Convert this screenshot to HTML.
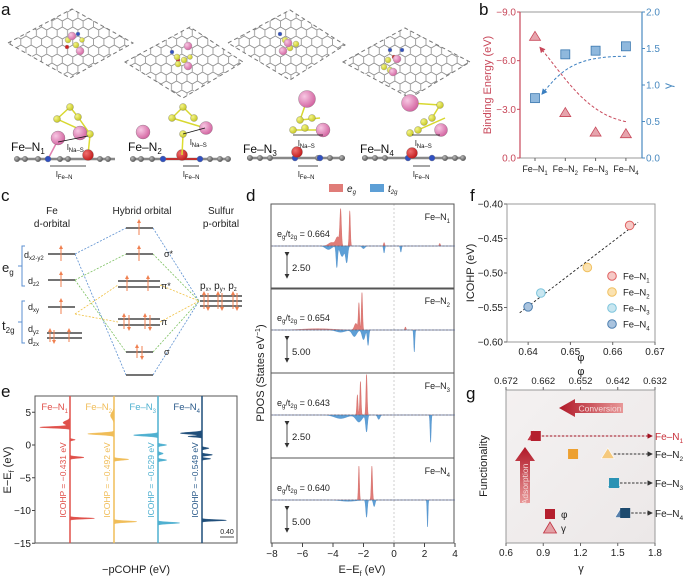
<!DOCTYPE html>
<html><head><meta charset="utf-8"><style>
html,body{margin:0;padding:0;background:#fff;}
svg{display:block;font-family:"Liberation Sans",sans-serif;}
</style></head><body>
<svg id="fig" width="685" height="577" viewBox="0 0 685 577" xmlns="http://www.w3.org/2000/svg">
<defs>
<pattern id="hex" width="10.39" height="18" patternUnits="userSpaceOnUse">
<path d="M5.2,0 L10.39,3 L10.39,9 L5.2,12 L0,9 L0,3 Z M5.2,12 L5.2,18" fill="none" stroke="#8a8a8a" stroke-width="0.8"/>
</pattern>
<radialGradient id="pinkG" cx="0.35" cy="0.35" r="0.7"><stop offset="0" stop-color="#f7c8e3"/><stop offset="1" stop-color="#d2619f"/></radialGradient>
<radialGradient id="yelG" cx="0.35" cy="0.35" r="0.7"><stop offset="0" stop-color="#f4f58a"/><stop offset="1" stop-color="#c4c41e"/></radialGradient>
<radialGradient id="redG" cx="0.35" cy="0.35" r="0.7"><stop offset="0" stop-color="#f07070"/><stop offset="1" stop-color="#c01818"/></radialGradient>
<radialGradient id="greyG" cx="0.35" cy="0.35" r="0.7"><stop offset="0" stop-color="#bbb"/><stop offset="1" stop-color="#555"/></radialGradient>
<linearGradient id="gbg" x1="0" y1="0" x2="1" y2="1"><stop offset="0" stop-color="#f4f1f1"/><stop offset="1" stop-color="#ece8e8"/></linearGradient>
<linearGradient id="convG" x1="0" y1="0" x2="1" y2="0"><stop offset="0" stop-color="#b01828"/><stop offset="1" stop-color="#e89898"/></linearGradient>
<linearGradient id="adsG" x1="0" y1="0" x2="0" y2="1"><stop offset="0" stop-color="#b01828"/><stop offset="1" stop-color="#e89898"/></linearGradient>
<marker id="arrR" markerWidth="6" markerHeight="6" refX="5" refY="3" orient="auto"><path d="M0,0 L6,3 L0,6 Z" fill="#c8485a"/></marker>
<marker id="arrB" markerWidth="6" markerHeight="6" refX="5" refY="3" orient="auto"><path d="M0,0 L6,3 L0,6 Z" fill="#3b7fc0"/></marker>
<marker id="arrK" markerWidth="6" markerHeight="6" refX="5" refY="3" orient="auto"><path d="M0,0 L6,3 L0,6 Z" fill="#333"/></marker>
<marker id="arrDR" markerWidth="6" markerHeight="6" refX="5" refY="3" orient="auto"><path d="M0,0 L6,3 L0,6 Z" fill="#a01020"/></marker>
<marker id="arrO" markerWidth="4" markerHeight="4" refX="2" refY="2" orient="auto"><path d="M0,0 L4,2 L0,4 Z" fill="#f08050"/></marker>
</defs>

<g font-size="17" fill="#111">
<text x="1" y="15">a</text><text x="479" y="15">b</text><text x="1" y="201">c</text>
<text x="246" y="201">d</text><text x="470" y="201">f</text><text x="1" y="397">e</text><text x="466" y="399">g</text>
</g>

<g id="panelA">
<g>
<polygon points="8,43 72,9 133,43 70,78" fill="url(#hex)" stroke="#777" stroke-dasharray="4,3"/>
<polygon points="125,62 190,27 243,62 183,98" fill="url(#hex)" stroke="#777" stroke-dasharray="4,3"/>
<polygon points="228,43 290,10 345,45 290,80" fill="url(#hex)" stroke="#777" stroke-dasharray="4,3"/>
<polygon points="343,62 405,28 470,62 410,98" fill="url(#hex)" stroke="#777" stroke-dasharray="4,3"/>
</g>
<g stroke="#999" stroke-width="0.4">
<circle cx="78" cy="34" r="2" fill="#3050c0"/><circle cx="67" cy="47" r="2" fill="#d02020"/>
<circle cx="68" cy="40" r="3" fill="url(#yelG)"/><circle cx="76" cy="45" r="3" fill="url(#yelG)"/><circle cx="82" cy="40" r="2.5" fill="url(#yelG)"/>
<circle cx="72" cy="36" r="4" fill="url(#pinkG)"/><circle cx="80" cy="51" r="4" fill="url(#pinkG)"/>
<circle cx="172" cy="52" r="2" fill="#3050c0"/><circle cx="178" cy="60" r="2" fill="#d02020"/>
<circle cx="177" cy="57" r="3" fill="url(#yelG)"/><circle cx="184" cy="60" r="3" fill="url(#yelG)"/><circle cx="178" cy="64" r="3" fill="url(#yelG)"/><circle cx="190" cy="57" r="2.5" fill="url(#yelG)"/>
<circle cx="188" cy="46" r="4" fill="url(#pinkG)"/><circle cx="188" cy="66" r="4" fill="url(#pinkG)"/>
<circle cx="280" cy="34" r="2" fill="#3050c0"/><circle cx="287" cy="44" r="2" fill="#d02020"/>
<circle cx="285" cy="40" r="3" fill="url(#yelG)"/><circle cx="296" cy="44" r="3" fill="url(#yelG)"/><circle cx="290" cy="48" r="3" fill="url(#yelG)"/>
<circle cx="288" cy="43" r="4" fill="url(#pinkG)"/><circle cx="283" cy="51" r="4" fill="url(#pinkG)"/>
<circle cx="390" cy="50" r="2" fill="#3050c0"/><circle cx="402" cy="50" r="2" fill="#3050c0"/><circle cx="394" cy="57" r="2" fill="#d02020"/>
<circle cx="388" cy="60" r="3" fill="url(#yelG)"/><circle cx="384" cy="67" r="3" fill="url(#yelG)"/><circle cx="390" cy="70" r="3" fill="url(#yelG)"/>
<circle cx="397" cy="59" r="4" fill="url(#pinkG)"/><circle cx="393" cy="72" r="4" fill="url(#pinkG)"/>
</g>
<g stroke="#666" stroke-width="0.3">
<line x1="15" y1="159" x2="115" y2="159" stroke="#888" stroke-width="2.5"/>
<line x1="130" y1="159" x2="230" y2="159" stroke="#888" stroke-width="2.5"/>
<line x1="247" y1="158" x2="345" y2="158" stroke="#888" stroke-width="2.5"/>
<line x1="362" y1="158" x2="463" y2="158" stroke="#888" stroke-width="2.5"/>
<g fill="url(#greyG)">
<circle cx="17" cy="159" r="2.8"/><circle cx="25" cy="159" r="2.8"/><circle cx="38" cy="159" r="2.8"/><circle cx="60" cy="159" r="2.8"/><circle cx="68" cy="159" r="2.8"/><circle cx="100" cy="159" r="2.8"/><circle cx="108" cy="159" r="2.8"/>
<circle cx="133" cy="159" r="2.8"/><circle cx="141" cy="159" r="2.8"/><circle cx="152" cy="159" r="2.8"/><circle cx="210" cy="159" r="2.8"/><circle cx="220" cy="159" r="2.8"/><circle cx="228" cy="159" r="2.8"/>
<circle cx="250" cy="158" r="2.8"/><circle cx="260" cy="158" r="2.8"/><circle cx="270" cy="158" r="2.8"/><circle cx="318" cy="158" r="2.8"/><circle cx="330" cy="158" r="2.8"/><circle cx="342" cy="158" r="2.8"/>
<circle cx="365" cy="158" r="2.8"/><circle cx="375" cy="158" r="2.8"/><circle cx="385" cy="158" r="2.8"/><circle cx="445" cy="158" r="2.8"/><circle cx="455" cy="158" r="2.8"/><circle cx="463" cy="158" r="2.8"/>
</g>
<line x1="48" y1="159" x2="58" y2="140" stroke="#e080b0" stroke-width="1.5"/>
<line x1="88" y1="155" x2="90" y2="135" stroke="#dddd30" stroke-width="1.5"/>
<circle cx="48" cy="159" r="3" fill="#3050c0"/><circle cx="88" cy="155" r="5.5" fill="url(#redG)"/>
<g stroke="#d8d830" stroke-width="1.5"><line x1="70" y1="107" x2="57" y2="119"/><line x1="70" y1="107" x2="78" y2="117"/><line x1="57" y1="119" x2="90" y2="134"/><line x1="78" y1="117" x2="90" y2="134"/></g>
<circle cx="80" cy="133" r="7" fill="url(#pinkG)"/><circle cx="58" cy="138" r="7" fill="url(#pinkG)"/>
<circle cx="70" cy="107" r="3.5" fill="url(#yelG)"/><circle cx="57" cy="119" r="3.5" fill="url(#yelG)"/><circle cx="78" cy="117" r="3.5" fill="url(#yelG)"/><circle cx="90" cy="134" r="3.5" fill="url(#yelG)"/>
<line x1="163" y1="159" x2="200" y2="159" stroke="#c03030" stroke-width="2"/>
<circle cx="163" cy="159" r="3" fill="#3050c0"/><circle cx="200" cy="159" r="3" fill="#3050c0"/><circle cx="182" cy="155" r="5.5" fill="url(#redG)"/>
<line x1="182" y1="155" x2="183" y2="135" stroke="#dddd30" stroke-width="1.5"/>
<g stroke="#d8d830" stroke-width="1.5"><line x1="183" y1="107" x2="172" y2="118"/><line x1="183" y1="107" x2="194" y2="118"/><line x1="172" y1="118" x2="205" y2="128"/></g>
<circle cx="143" cy="132" r="7" fill="url(#pinkG)"/><circle cx="206" cy="128" r="6.5" fill="url(#pinkG)"/>
<circle cx="183" cy="107" r="3.5" fill="url(#yelG)"/><circle cx="172" cy="118" r="3.5" fill="url(#yelG)"/><circle cx="194" cy="118" r="3.5" fill="url(#yelG)"/><circle cx="183" cy="134" r="3.5" fill="url(#yelG)"/>
<circle cx="295" cy="158" r="3" fill="#3050c0"/><circle cx="320" cy="158" r="3" fill="#3050c0"/><circle cx="297" cy="152" r="5.5" fill="url(#redG)"/>
<g stroke="#d8d830" stroke-width="1.5"><line x1="307" y1="100" x2="300" y2="120"/><line x1="300" y1="120" x2="320" y2="118"/><line x1="293" y1="130" x2="320" y2="130"/></g>
<circle cx="307" cy="99" r="8.5" fill="url(#pinkG)"/><circle cx="323" cy="130" r="7" fill="url(#pinkG)"/>
<circle cx="300" cy="120" r="3.5" fill="url(#yelG)"/><circle cx="312" cy="118" r="3.5" fill="url(#yelG)"/><circle cx="293" cy="130" r="3.5" fill="url(#yelG)"/><circle cx="305" cy="128" r="3.5" fill="url(#yelG)"/>
<circle cx="408" cy="158" r="3" fill="#3050c0"/><circle cx="432" cy="158" r="3" fill="#3050c0"/><circle cx="412" cy="153" r="5.5" fill="url(#redG)"/>
<g stroke="#d8d830" stroke-width="1.5"><line x1="410" y1="103" x2="440" y2="105"/><line x1="440" y1="105" x2="432" y2="118"/><line x1="418" y1="130" x2="445" y2="118"/></g>
<circle cx="410" cy="103" r="8.5" fill="url(#pinkG)"/><circle cx="441" cy="130" r="6.5" fill="url(#pinkG)"/>
<circle cx="440" cy="105" r="3.5" fill="url(#yelG)"/><circle cx="432" cy="118" r="3.5" fill="url(#yelG)"/><circle cx="418" cy="130" r="3.5" fill="url(#yelG)"/><circle cx="410" cy="133" r="3.5" fill="url(#yelG)"/><circle cx="424" cy="122" r="3.5" fill="url(#yelG)"/>
</g>
<g font-size="12" fill="#111">
<text x="11" y="151">Fe–N<tspan font-size="8" dy="3">1</tspan></text>
<text x="128" y="151">Fe–N<tspan font-size="8" dy="3">2</tspan></text>
<text x="243" y="153">Fe–N<tspan font-size="8" dy="3">3</tspan></text>
<text x="360" y="153">Fe–N<tspan font-size="8" dy="3">4</tspan></text>
</g>
<g font-size="8" fill="#111" stroke-width="0.8">
<line x1="58" y1="142" x2="88" y2="136" stroke="#111"/><text x="67" y="150">l<tspan font-size="6" dy="2">Na–S</tspan></text>
<line x1="50" y1="166" x2="86" y2="166" stroke="#111"/><text x="56" y="177">l<tspan font-size="6" dy="2">Fe–N</tspan></text>
<line x1="183" y1="134" x2="205" y2="128" stroke="#111"/><text x="190" y="145">l<tspan font-size="6" dy="2">Na–S</tspan></text>
<line x1="183" y1="166" x2="199" y2="166" stroke="#111"/><text x="183" y="177">l<tspan font-size="6" dy="2">Fe–N</tspan></text>
<line x1="293" y1="135" x2="323" y2="135" stroke="#111"/><text x="298" y="146">l<tspan font-size="6" dy="2">Na–S</tspan></text>
<line x1="298" y1="166" x2="318" y2="166" stroke="#111"/><text x="298" y="177">l<tspan font-size="6" dy="2">Fe–N</tspan></text>
<line x1="412" y1="135" x2="440" y2="135" stroke="#111"/><text x="415" y="146">l<tspan font-size="6" dy="2">Na–S</tspan></text>
<line x1="413" y1="166" x2="430" y2="166" stroke="#111"/><text x="413" y="177">l<tspan font-size="6" dy="2">Fe–N</tspan></text>
</g>
</g>

<g id="panelC" font-size="10" fill="#222">
<text x="52" y="214" text-anchor="middle">Fe</text>
<text x="52" y="227" text-anchor="middle">d-orbital</text>
<text x="142" y="214" text-anchor="middle">Hybrid orbital</text>
<text x="221" y="214" text-anchor="middle">Sulfur</text>
<text x="221" y="227" text-anchor="middle">p-orbital</text>
<g fill="none" stroke-width="0.8" stroke-dasharray="2,1.5">
<path d="M75,254 L126,228 M75,254 L126,375 M153,228 L199,301 M153,375 L199,301" stroke="#5b8fd0"/>
<path d="M75,280 L126,254 M75,280 L126,352 M153,254 L199,301 M153,352 L199,301" stroke="#7cc060"/>
<path d="M75,314 L118,285 M75,314 L118,322 M160,285 L199,301 M160,322 L199,301" stroke="#f0c040"/>
</g>
<g stroke="#222" stroke-width="1.3">
<line x1="48" y1="254" x2="75" y2="254"/><line x1="48" y1="280" x2="75" y2="280"/><line x1="48" y1="307" x2="75" y2="307"/>
<line x1="47" y1="333" x2="82" y2="333"/><line x1="47" y1="338" x2="82" y2="338"/>
<line x1="126" y1="228" x2="153" y2="228"/><line x1="126" y1="254" x2="153" y2="254"/>
<line x1="118" y1="281" x2="160" y2="281"/><line x1="118" y1="287" x2="160" y2="287"/>
<line x1="118" y1="319" x2="160" y2="319"/><line x1="118" y1="325" x2="160" y2="325"/>
<line x1="126" y1="352" x2="153" y2="352"/><line x1="126" y1="375" x2="153" y2="375"/>
<line x1="200" y1="296" x2="242" y2="296"/><line x1="200" y1="301" x2="242" y2="301"/><line x1="200" y1="306" x2="242" y2="306"/>
</g>
<g stroke="#f08050" stroke-width="1" marker-end="url(#arrO)">
<line x1="61" y1="261" x2="61" y2="247"/><line x1="61" y1="287" x2="61" y2="273"/><line x1="61" y1="314" x2="61" y2="300"/>
<line x1="50" y1="342" x2="50" y2="330"/><line x1="54" y1="330" x2="54" y2="342"/><line x1="69" y1="342" x2="69" y2="330"/>
<line x1="139" y1="235" x2="139" y2="221"/><line x1="139" y1="261" x2="139" y2="247"/>
<line x1="127" y1="291" x2="127" y2="277"/><line x1="148" y1="291" x2="148" y2="277"/>
<line x1="124" y1="329" x2="124" y2="315"/><line x1="129" y1="315" x2="129" y2="329"/><line x1="145" y1="329" x2="145" y2="315"/><line x1="150" y1="315" x2="150" y2="329"/>
<line x1="137" y1="358" x2="137" y2="346"/><line x1="142" y1="346" x2="142" y2="358"/>
<line x1="204" y1="309" x2="204" y2="293"/><line x1="208" y1="293" x2="208" y2="309"/><line x1="218" y1="309" x2="218" y2="293"/><line x1="222" y1="293" x2="222" y2="309"/><line x1="233" y1="309" x2="233" y2="293"/><line x1="237" y1="293" x2="237" y2="309"/>
</g>
<g font-size="9">
<text x="24" y="258">d<tspan font-size="6" dy="2">x2-y2</tspan></text>
<text x="28" y="284">d<tspan font-size="6" dy="2">z2</tspan></text>
<text x="28" y="310">d<tspan font-size="6" dy="2">xy</tspan></text>
<text x="28" y="332">d<tspan font-size="6" dy="2">yz</tspan></text>
<text x="28" y="344">d<tspan font-size="6" dy="2">zx</tspan></text>
<text x="164" y="257">σ*</text><text x="161" y="289">π*</text><text x="161" y="325">π</text><text x="164" y="355">σ</text>
<text x="200" y="289" font-size="10">p<tspan font-size="6" dy="2">x</tspan><tspan dy="-2">, p</tspan><tspan font-size="6" dy="2">y</tspan><tspan dy="-2">, p</tspan><tspan font-size="6" dy="2">z</tspan></text>
<text x="2" y="272" font-size="13">e<tspan font-size="8" dy="3">g</tspan></text>
<text x="2" y="330" font-size="13">t<tspan font-size="8" dy="3">2g</tspan></text>
</g>
<path d="M25,246 L22,246 L22,286 L25,286 M22,266 L18,266 M25,301 L22,301 L22,343 L25,343 M22,322 L18,322" fill="none" stroke="#5b8fd0" stroke-width="1"/>
</g>

<g id="dyn"></g>
</svg>

<script>
// ===== panel b data =====
const bCats = ['1','2','3','4'];
const bBinding = [-7.5, -2.8, -1.6, -1.5];
const bGamma = [0.82, 1.42, 1.47, 1.53];
const bLeftTicks = [-9.0, -6.0, -3.0, 0.0];
const bRightTicks = [0.0, 0.5, 1.0, 1.5, 2.0];

// ===== panel d data (peaks: [energy, height in states, width]) =====
const dRatios = ['0.664', '0.654', '0.643', '0.640'];
const dScaleLabels = ['2.50', '5.00', '2.50', '5.00'];
const dScaleValues = [2.5, 5.0, 2.5, 5.0];
const dEg1 = [[-3.5,4.0,0.05],[-2.9,4.0,0.04],[-3.7,1.0,0.12],[-4.1,0.4,0.2],[-0.65,0.4,0.04],[3.0,0.3,0.04]];
const dT2g1 = [[-3.75,-2.4,0.05],[-3.1,-1.8,0.07],[-3.4,-1.2,0.14],[-4.3,-0.4,0.2],[-2.0,-0.3,0.1],[-0.65,-0.8,0.04],[0.45,-0.7,0.04]];
const dEg2 = [[-2.1,8.5,0.04],[-2.3,6.0,0.04],[-2.5,1.5,0.1],[-5.0,0.3,1.0],[0.75,0.7,0.04]];
const dT2g2 = [[-1.7,-3.5,0.05],[-2.0,-2.2,0.1],[-2.6,-1.5,0.15],[-3.5,-0.5,0.3],[1.33,-5.0,0.035]];
const dEg3 = [[-1.8,4.6,0.04],[-2.2,3.8,0.04],[-2.4,2.3,0.04]];
const dT2g3 = [[-1.8,-1.9,0.06],[-2.3,-0.8,0.2],[-3.5,-0.4,0.4],[-1.0,-0.5,0.08],[2.4,-3.1,0.035]];
const dEg4 = [[-2.3,7.7,0.035],[-1.45,7.7,0.04]];
const dT2g4 = [[-1.8,-3.9,0.05],[-1.3,-1.5,0.06],[-3.0,-0.3,0.5],[2.2,-6.1,0.03]];
const dXTicks = [-8, -6, -4, -2, 0, 2, 4];

// ===== panel e data (peaks: [energy, -pCOHP, width]) =====
const eLabels = ['0.431', '0.492', '0.529', '0.549'];
const eN1 = [[2.7,-0.85,0.12],[3.4,-0.2,0.3],[0.8,0.15,0.1],[-1.9,0.4,0.12],[-11.2,0.7,0.1]];
const eN2 = [[1.7,-0.75,0.15],[4.5,-0.1,0.5],[-2.2,0.42,0.12],[-11.7,0.65,0.12]];
const eN3 = [[1.5,-0.7,0.15],[0.0,0.25,0.12],[-1.3,0.15,0.15],[-2.3,0.25,0.12],[-11.9,0.62,0.12]];
const eN4 = [[1.8,-0.62,0.15],[1.3,-0.4,0.1],[-0.5,0.2,0.12],[-1.5,0.3,0.12],[-2.1,0.25,0.1],[-11.5,0.7,0.1]];
const eYTicks = [5, 0, -5, -10, -15];

// ===== panel f data =====
const fPhi = [0.664, 0.654, 0.643, 0.640];
const fIcohp = [-0.431, -0.492, -0.529, -0.549];
const fXTicks = [0.64, 0.65, 0.66, 0.67];
const fYTicks = [-0.40, -0.45, -0.50, -0.55, -0.60];

// ===== panel g data =====
const gPhi = [0.664, 0.654, 0.643, 0.640];
const gGamma = [0.82, 1.42, 1.47, 1.53];
const gTopTicks = [0.672, 0.662, 0.652, 0.642, 0.632];
const gBottomTicks = [0.6, 0.9, 1.2, 1.5, 1.8];

const NS = 'http://www.w3.org/2000/svg';
const root = document.getElementById('dyn');
function mk(tag, attrs, name, parent) {
  const el = document.createElementNS(NS, tag);
  for (const k in attrs) el.setAttribute(k, attrs[k]);
  
  
  (parent || root).appendChild(el);
  return el;
}
function txt(x, y, s, attrs, name, parent) {
  const t = mk('text', Object.assign({x: x, y: y}, attrs || {}), name, parent);
  const re = /<tspan([^>]*)>([^<]*)<\/tspan>/g;
  let last = 0, m;
  while ((m = re.exec(s)) !== null) {
    if (m.index > last) t.appendChild(document.createTextNode(s.slice(last, m.index)));
    const ts = document.createElementNS(NS, 'tspan');
    const ar = /([\w-]+)="([^"]*)"/g; let a;
    while ((a = ar.exec(m[1])) !== null) ts.setAttribute(a[1], a[2]);
    ts.textContent = m[2];
    t.appendChild(ts);
    last = re.lastIndex;
  }
  if (last < s.length) t.appendChild(document.createTextNode(s.slice(last)));
  return t;
}
function feN(n, sub) { return 'Fe–N<tspan font-size="' + (sub||7) + '" dy="3">' + n + '</tspan>'; }
function gsum(peaks, E) { let s = 0; for (const p of peaks) s += p[1] * Math.exp(-0.5 * Math.pow((E - p[0]) / p[2], 2)); return s; }

// ---------- panel b ----------
(function(){
  const g = mk('g', {}, 'panel-b-binding-chart');
  const L = 520, R = 642, T = 12, B = 158;
  const xB = i => 535 + i * 30.3;
  const yL = v => B - (v / -9) * (B - T);
  const yR = v => B - (v / 2) * (B - T);
  mk('rect', {x: L, y: T, width: R - L, height: B - T, fill: 'none', stroke: '#999', 'stroke-width': 1}, 'plot-frame', g);
  mk('line', {x1: L, y1: T, x2: L, y2: B, stroke: '#c8485a', 'stroke-width': 1.2}, 'left-axis', g);
  mk('line', {x1: R, y1: T, x2: R, y2: B, stroke: '#4a8ac0', 'stroke-width': 1.2}, 'right-axis', g);
  bLeftTicks.forEach(v => {
    mk('line', {x1: L - 3, y1: yL(v), x2: L, y2: yL(v), stroke: '#c8485a'}, 'left-tick', g);
    txt(L - 4, yL(v) + 3.5, v.toFixed(1).replace('-', '−'), {'font-size': 10, fill: '#c8485a', 'text-anchor': 'end'}, 'left-tick-label', g);
  });
  bRightTicks.forEach(v => {
    mk('line', {x1: R, y1: yR(v), x2: R + 3, y2: yR(v), stroke: '#4a8ac0'}, 'right-tick', g);
    txt(R + 4, yR(v) + 3.5, v.toFixed(1), {'font-size': 10, fill: '#4a8ac0'}, 'right-tick-label', g);
  });
  bCats.forEach((c, i) => {
    mk('line', {x1: xB(i), y1: B, x2: xB(i), y2: B + 3, stroke: '#666'}, 'x-tick', g);
    txt(xB(i), B + 14, feN(c, 6), {'font-size': 9, 'text-anchor': 'middle', fill: '#222'}, 'x-tick-label', g);
  });
  txt(0, 0, 'Binding Energy (eV)', {'font-size': 11, fill: '#c8485a', 'text-anchor': 'middle', transform: 'translate(491,85) rotate(-90)'}, 'left-axis-title', g);
  txt(0, 0, 'γ', {'font-size': 12, fill: '#4a8ac0', 'text-anchor': 'middle', transform: 'translate(672,86) rotate(-90)'}, 'right-axis-title', g);
  const p0 = [xB(3), yL(bBinding[3]) - 12], p1 = [xB(0) + 5, yL(bBinding[0]) + 11];
  mk('path', {d: `M${p0[0]},${p0[1]} C${p0[0]-40},${p0[1]-8} ${p1[0]+25},${p1[1]+30} ${p1[0]},${p1[1]}`, fill: 'none', stroke: '#c8485a', 'stroke-dasharray': '3,2', 'marker-end': 'url(#arrR)'}, 'binding-trend-arrow', g);
  const q0 = [xB(3), yR(bGamma[3]) + 10], q1 = [xB(0) + 7, yR(bGamma[0]) - 4];
  mk('path', {d: `M${q0[0]},${q0[1]} C${q0[0]-50},${q0[1]} ${q1[0]+20},${q1[1]-25} ${q1[0]},${q1[1]}`, fill: 'none', stroke: '#3b7fc0', 'stroke-dasharray': '3,2', 'marker-end': 'url(#arrB)'}, 'gamma-trend-arrow', g);
  bBinding.forEach((v, i) => {
    const x = xB(i), y = yL(v);
    mk('polygon', {points: `${x},${y-5} ${x-5.5},${y+4} ${x+5.5},${y+4}`, fill: '#e6a4ad', stroke: '#c8485a', 'stroke-width': 0.8}, 'binding-energy-point', g);
  });
  bGamma.forEach((v, i) => {
    const x = xB(i), y = yR(v);
    mk('rect', {x: x - 4.5, y: y - 4.5, width: 9, height: 9, fill: '#8fb8dd', stroke: '#3b78b0', 'stroke-width': 0.8}, 'gamma-point', g);
  });
})();

// ---------- panel d ----------
(function(){
  const g = mk('g', {}, 'panel-d-pdos');
  const L = 271, R = 454;
  const tops = [204, 288, 373, 458], H = 85;
  const xE = e => 394 + e * 15.25;
  const egs = [dEg1, dEg2, dEg3, dEg4], t2gs = [dT2g1, dT2g2, dT2g3, dT2g4];
  mk('line', {x1: xE(0), y1: 204, x2: xE(0), y2: 543, stroke: '#bbb', 'stroke-dasharray': '2,2', 'stroke-width': 0.7}, 'fermi-level-line', g);
  tops.forEach((top, k) => {
    const base = top + 42;
    const s = 22 / dScaleValues[k];
    mk('rect', {x: L, y: top, width: R - L, height: H, fill: 'none', stroke: '#555', 'stroke-width': 1}, 'subpanel-frame', g);
    let pe = `M${xE(-8)},${base}`, pt = `M${xE(-8)},${base}`;
    for (let E = -8; E <= 4.0001; E += 0.01) {
      pe += ` L${xE(E).toFixed(2)},${(base - Math.max(0, gsum(egs[k], E)) * s).toFixed(2)}`;
      pt += ` L${xE(E).toFixed(2)},${(base - Math.min(0, gsum(t2gs[k], E)) * s).toFixed(2)}`;
    }
    pe += ` L${xE(4)},${base} Z`; pt += ` L${xE(4)},${base} Z`;
    mk('path', {d: pe, fill: '#e07c78', stroke: '#d06460', 'stroke-width': 0.4}, 'eg-pdos-area', g);
    mk('path', {d: pt, fill: '#5d9fd6', stroke: '#4a8ac6', 'stroke-width': 0.4}, 't2g-pdos-area', g);
    mk('line', {x1: L, y1: base, x2: R, y2: base, stroke: '#667', 'stroke-dasharray': '2,1.5', 'stroke-width': 0.7}, 'zero-line', g);
    txt(277, top + 33, 'e<tspan font-size="6" dy="2">g</tspan><tspan dy="-2">/t</tspan><tspan font-size="6" dy="2">2g</tspan><tspan dy="-2"> = ' + dRatios[k] + '</tspan>', {'font-size': 9, fill: '#222'}, 'eg-t2g-ratio-label', g);
    txt(450, top + 16, feN(k + 1, 6), {'font-size': 9, 'text-anchor': 'end', fill: '#222'}, 'subpanel-label', g);
    mk('line', {x1: 287, y1: base + 10, x2: 287, y2: base + 32, stroke: '#222', 'stroke-width': 0.8, 'marker-end': 'url(#arrK)', 'marker-start': 'url(#arrK)'}, 'scale-bar', g);
    txt(292, base + 25, dScaleLabels[k], {'font-size': 9.5, fill: '#222'}, 'scale-bar-label', g);
  });
  dXTicks.forEach(v => {
    mk('line', {x1: xE(v), y1: 543, x2: xE(v), y2: 547, stroke: '#444'}, 'x-tick', g);
    txt(xE(v), 557, String(v).replace('-', '−'), {'font-size': 10, 'text-anchor': 'middle', fill: '#222'}, 'x-tick-label', g);
  });
  txt(362, 573, 'E−E<tspan font-size="7" dy="3">f</tspan><tspan dy="-3"> (eV)</tspan>', {'font-size': 11, 'text-anchor': 'middle', fill: '#222'}, 'x-axis-title', g);
  txt(0, 0, 'PDOS (States eV<tspan font-size="7" dy="-4">−1</tspan><tspan dy="4">)</tspan>', {'font-size': 11, 'text-anchor': 'middle', fill: '#222', transform: 'translate(264,373) rotate(-90)'}, 'y-axis-title', g);
  mk('rect', {x: 329, y: 184, width: 14, height: 8, fill: '#e07c78'}, 'legend-eg-swatch', g);
  txt(347, 192, 'e<tspan font-size="6" dy="2">g</tspan>', {'font-size': 10, 'font-style': 'italic', fill: '#222'}, 'legend-eg-label', g);
  mk('rect', {x: 370, y: 184, width: 14, height: 8, fill: '#5d9fd6'}, 'legend-t2g-swatch', g);
  txt(388, 192, 't<tspan font-size="6" dy="2">2g</tspan>', {'font-size': 10, 'font-style': 'italic', fill: '#222'}, 'legend-t2g-label', g);
})();

// ---------- panel e ----------
(function(){
  const g = mk('g', {}, 'panel-e-pcohp');
  const L = 35, R = 237, T = 396, B = 543;
  const yE = e => 445 - e * 6.55;
  const bases = [70, 114, 158, 202];
  const cols = ['#e0504a', '#f0bd58', '#4fb0d0', '#1f4e7a'];
  const txtCols = ['#e0504a', '#f0bd58', '#4fb0d0', '#2a5a8a'];
  const series = [eN1, eN2, eN3, eN4];
  mk('rect', {x: L, y: T, width: R - L, height: B - T, fill: 'none', stroke: '#555', 'stroke-width': 1}, 'plot-frame', g);
  series.forEach((pk, k) => {
    const b = bases[k];
    let d = `M${b},${yE(7.5)}`;
    for (let E = 7.5; E >= -15; E -= 0.02) d += ` L${(b + gsum(pk, E) * 35).toFixed(2)},${yE(E).toFixed(2)}`;
    d += ` L${b},${yE(-15)} Z`;
    mk('path', {d: d, fill: cols[k], stroke: cols[k], 'stroke-width': 0.4}, 'pcohp-series-' + (k + 1), g);
    mk('line', {x1: b, y1: T, x2: b, y2: B, stroke: cols[k], 'stroke-width': 1.5}, 'series-baseline', g);
    txt(b - 2, 410, feN(k + 1, 6), {'font-size': 9.5, 'text-anchor': 'end', fill: txtCols[k]}, 'series-label', g);
    txt(0, 0, 'ICOHP = −' + eLabels[k] + ' eV', {'font-size': 8.5, 'text-anchor': 'middle', fill: txtCols[k], transform: `translate(${b - 4},480) rotate(-90)`}, 'icohp-value-label', g);
  });
  eYTicks.forEach(v => {
    mk('line', {x1: L - 3, y1: yE(v), x2: L, y2: yE(v), stroke: '#444'}, 'y-tick', g);
    txt(L - 4, yE(v) + 3.5, String(v).replace('-', '−'), {'font-size': 10, 'text-anchor': 'end', fill: '#222'}, 'y-tick-label', g);
  });
  mk('line', {x1: 220, y1: 537, x2: 234, y2: 537, stroke: '#222', 'stroke-width': 0.8}, 'scale-bar', g);
  txt(227, 534, '0.40', {'font-size': 7, 'text-anchor': 'middle', fill: '#222'}, 'scale-bar-label', g);
  txt(136, 573, '−pCOHP (eV)', {'font-size': 11, 'text-anchor': 'middle', fill: '#222'}, 'x-axis-title', g);
  txt(0, 0, 'E−E<tspan font-size="7" dy="3">f</tspan><tspan dy="-3"> (eV)</tspan>', {'font-size': 11, 'text-anchor': 'middle', fill: '#222', transform: 'translate(11,470) rotate(-90)'}, 'y-axis-title', g);
})();

// ---------- panel f ----------
(function(){
  const g = mk('g', {}, 'panel-f-icohp-scatter');
  const L = 507, R = 655, T = 204, B = 342;
  const xF = v => L + (v - 0.635) / 0.035 * (R - L);
  const yF = v => T + (-0.40 - v) / 0.20 * (B - T);
  mk('rect', {x: L, y: T, width: R - L, height: B - T, fill: 'none', stroke: '#999', 'stroke-width': 1}, 'plot-frame', g);
  fXTicks.forEach(v => {
    mk('line', {x1: xF(v), y1: B, x2: xF(v), y2: B + 3, stroke: '#666'}, 'x-tick', g);
    txt(xF(v), B + 13, v.toFixed(2), {'font-size': 10, 'text-anchor': 'middle', fill: '#222'}, 'x-tick-label', g);
  });
  fYTicks.forEach(v => {
    mk('line', {x1: L - 3, y1: yF(v), x2: L, y2: yF(v), stroke: '#666'}, 'y-tick', g);
    txt(L - 4, yF(v) + 3.5, v.toFixed(2).replace('-', '−'), {'font-size': 10, 'text-anchor': 'end', fill: '#222'}, 'y-tick-label', g);
  });
  const n = fPhi.length, mx = fPhi.reduce((a, b) => a + b) / n, my = fIcohp.reduce((a, b) => a + b) / n;
  let sxy = 0, sxx = 0; for (let i = 0; i < n; i++) { sxy += (fPhi[i] - mx) * (fIcohp[i] - my); sxx += (fPhi[i] - mx) ** 2; }
  const sl = sxy / sxx, ic = my - sl * mx;
  mk('line', {x1: xF(0.638), y1: yF(ic + sl * 0.638), x2: xF(0.666), y2: yF(ic + sl * 0.666), stroke: '#222', 'stroke-dasharray': '2.5,2', 'stroke-width': 0.9}, 'fit-line', g);
  const fills = ['#f6c9c6', '#fbe2b0', '#c8e6f0', '#a9c3de'], strokes = ['#e06060', '#f0c060', '#7cc4dc', '#4d7fb0'];
  fPhi.forEach((v, i) => {
    mk('circle', {cx: xF(v), cy: yF(fIcohp[i]), r: 4.3, fill: fills[i], stroke: strokes[i], 'stroke-width': 1}, 'data-point', g);
    mk('circle', {cx: 612, cy: 276 + i * 16, r: 4.3, fill: fills[i], stroke: strokes[i], 'stroke-width': 1}, 'legend-marker', g);
    txt(623, 279.5 + i * 16, feN(i + 1, 6), {'font-size': 9.5, fill: '#222'}, 'legend-label', g);
  });
  txt(0, 0, 'ICOHP (eV)', {'font-size': 11, 'text-anchor': 'middle', fill: '#222', transform: 'translate(474,273) rotate(-90)'}, 'y-axis-title', g);
  txt(581, 361, 'φ', {'font-size': 11, 'text-anchor': 'middle', fill: '#222'}, 'x-axis-title', g);
})();

// ---------- panel g ----------
(function(){
  const g = mk('g', {}, 'panel-g-functionality');
  const L = 506, R = 655, T = 390, B = 543;
  const xTop = v => L + (0.672 - v) / 0.04 * (R - L);
  const xBot = v => L + (v - 0.6) / 1.2 * (R - L);
  const rows = [436, 454, 483, 513];
  mk('rect', {x: L, y: T, width: R - L, height: B - T, fill: 'url(#gbg)', stroke: '#999', 'stroke-width': 1}, 'plot-frame', g);
  gTopTicks.forEach(v => {
    mk('line', {x1: xTop(v), y1: T - 3, x2: xTop(v), y2: T, stroke: '#666'}, 'top-tick', g);
    txt(xTop(v), T - 6, v.toFixed(3), {'font-size': 9.5, 'text-anchor': 'middle', fill: '#222'}, 'top-tick-label', g);
  });
  gBottomTicks.forEach(v => {
    mk('line', {x1: xBot(v), y1: B, x2: xBot(v), y2: B + 3, stroke: '#666'}, 'bottom-tick', g);
    txt(xBot(v), B + 13, v.toFixed(1), {'font-size': 10, 'text-anchor': 'middle', fill: '#222'}, 'bottom-tick-label', g);
  });
  txt(581, 375, 'φ', {'font-size': 11, 'text-anchor': 'middle', fill: '#222'}, 'top-axis-title', g);
  txt(581, 572, 'γ', {'font-size': 11, 'text-anchor': 'middle', fill: '#222'}, 'bottom-axis-title', g);
  txt(0, 0, 'Functionality', {'font-size': 11, 'text-anchor': 'middle', fill: '#222', transform: 'translate(487,466) rotate(-90)'}, 'y-axis-title', g);
  mk('path', {d: 'M559,408 L575,399 L575,403 L623,403 L623,413 L575,413 L575,417 Z', fill: 'url(#convG)'}, 'conversion-arrow', g);
  txt(600, 411.5, 'Conversion', {'font-size': 8.5, 'text-anchor': 'middle', fill: '#f4d8d8'}, 'conversion-label', g);
  mk('path', {d: 'M525,447 L535,461 L530,461 L530,503 L520,503 L520,461 L515,461 Z', fill: 'url(#adsG)'}, 'adsorption-arrow', g);
  txt(0, 0, 'Adsorption', {'font-size': 8.5, 'text-anchor': 'middle', fill: '#f4d8d8', transform: 'translate(528,484) rotate(-90)'}, 'adsorption-label', g);
  const sqFill = ['#b51f2e', '#eda030', '#2a92b4', '#1d4a6e'];
  const trFill = ['#c03040', '#f6c878', '#3a9ec0', '#4f7aa8'];
  const labCol = ['#c8303a', '#222', '#222', '#222'];
  gPhi.forEach((v, i) => {
    const y = rows[i];
    const xs = xTop(v), xt = xBot(gGamma[i]);
    mk('line', {x1: Math.max(xs, xt) + 6, y1: y, x2: 652, y2: y, stroke: i === 0 ? '#a01020' : '#333', 'stroke-dasharray': '2.5,1.5', 'stroke-width': 0.9, 'marker-end': i === 0 ? 'url(#arrDR)' : 'url(#arrK)'}, 'row-arrow', g);
    mk('polygon', {points: `${xt},${y-6} ${xt-6.5},${y+4.5} ${xt+6.5},${y+4.5}`, fill: trFill[i], stroke: '#fff', 'stroke-width': 0.6, opacity: 0.95}, 'gamma-marker', g);
    mk('rect', {x: xs - 5, y: y - 5, width: 10, height: 10, fill: sqFill[i]}, 'phi-marker', g);
    txt(655, y + 4, feN(i + 1, 6.5), {'font-size': 10, fill: labCol[i]}, 'row-label', g);
  });
  mk('rect', {x: 545, y: 509, width: 10, height: 10, fill: '#b51f2e'}, 'legend-phi-marker', g);
  txt(561, 518, 'φ', {'font-size': 10, fill: '#222'}, 'legend-phi-label', g);
  mk('polygon', {points: '550,522 543.5,533 556.5,533', fill: '#e3a0a5', stroke: '#c03040', 'stroke-width': 0.8}, 'legend-gamma-marker', g);
  txt(561, 532, 'γ', {'font-size': 10, fill: '#222'}, 'legend-gamma-label', g);
})();
</script>
</body></html>
